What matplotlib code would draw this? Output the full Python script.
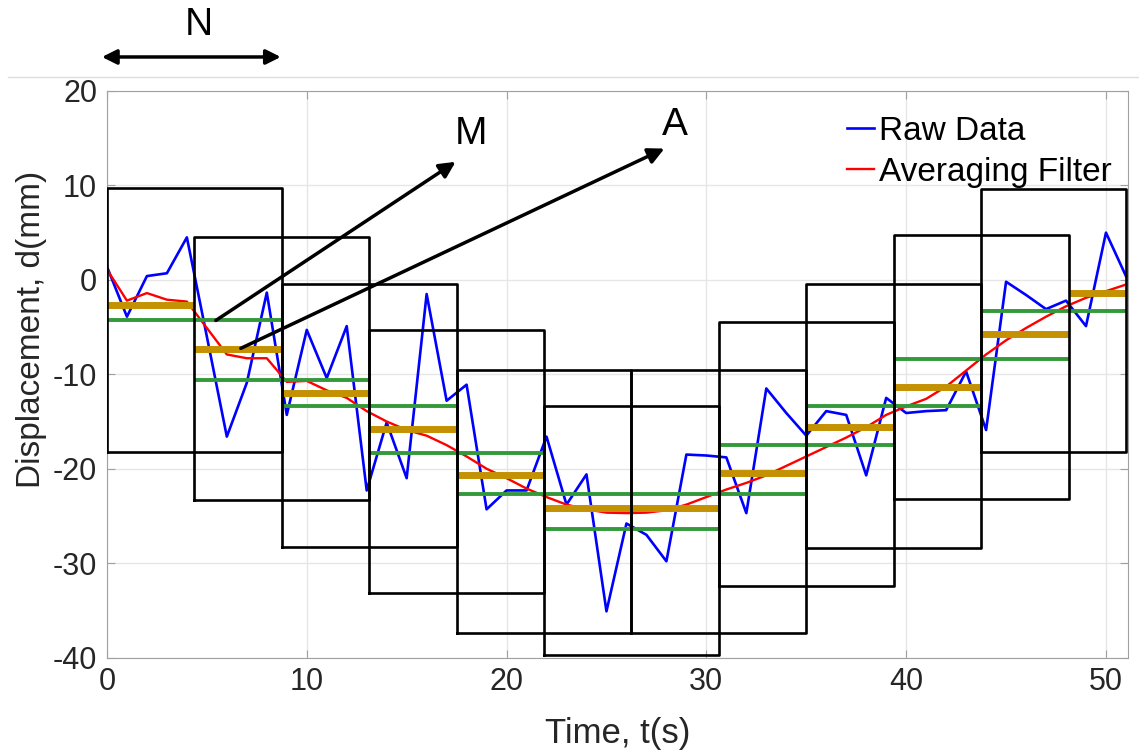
import matplotlib.pyplot as plt
from matplotlib.lines import Line2D

plt.rcParams['font.family'] = ['Liberation Sans', 'DejaVu Sans']
plt.rcParams['axes.unicode_minus'] = False

t = list(range(52))
raw = [1.4, -3.9, 0.4, 0.7, 4.5, -6.0, -16.6, -10.9, -1.35, -14.3,
       -5.3, -10.4, -4.9, -22.3, -15.1, -21.0, -1.5, -12.8, -11.1, -24.3,
       -22.3, -22.3, -16.6, -23.8, -20.6, -35.1, -25.8, -27.0, -29.8, -18.5,
       -18.6, -18.8, -24.7, -11.5, -14.1, -16.5, -13.9, -14.3, -20.7, -12.5,
       -14.1, -13.9, -13.8, -9.7, -15.9, -0.2, -1.6, -3.1, -2.2, -4.9,
       5.0, 0.4]
filt = [1.1, -2.2, -1.4, -2.1, -2.3, -5.1, -7.9, -8.3, -8.3, -10.8,
        -10.7, -11.7, -12.5, -13.9, -15.0, -15.9, -16.5, -17.5, -18.7, -20.0,
        -21.0, -22.1, -23.0, -23.8, -24.3, -24.65, -24.7, -24.65, -24.4, -23.8,
        -23.0, -22.2, -21.5, -20.7, -19.7, -18.7, -17.7, -16.7, -15.6, -14.3,
        -13.4, -12.6, -11.3, -9.6, -7.9, -6.4, -5.1, -3.9, -2.8, -1.9,
        -1.2, -0.5]

# segment edges (time)
edges = [0, 4.375, 8.75, 13.125, 17.5, 21.875, 26.25, 30.625, 35, 39.375,
         43.75, 48.125, 51]
# each window covers two segments
box_top = [9.7, 4.5, -0.4, -5.3, -9.5, -13.4, -9.5, -4.5, -0.4, 4.7, 9.6]
box_bottom = [-18.2, -23.3, -28.25, -33.2, -37.4, -39.7, -37.4, -32.45,
              -28.35, -23.2, -18.2]
green_val = [-4.3, -10.6, -13.4, -18.3, -22.7, -26.4, -22.7, -17.5, -13.4,
             -8.4, -3.3]
gold_val = [-2.65, -7.3, -12.0, -15.8, -20.7, -24.2, -24.2, -20.4, -15.6,
            -11.3, -5.75, -1.4]

fig = plt.figure(figsize=(11.39, 7.55), dpi=100)
ax = fig.add_axes([0.0939, 0.129, 0.8964, 0.7505])

ax.plot(t, raw, color='#0000ff', lw=1.9, label='Raw Data', zorder=3)
ax.plot(t, filt, color='#ff0000', lw=1.7, label='Averaging Filter', zorder=4)

for k in range(len(box_top)):
    x0, x1 = edges[k], edges[k + 2]
    ax.hlines(green_val[k], x0, x1, color='#33993a', lw=2.8, zorder=5)
    ax.plot([x0, x1, x1, x0, x0],
            [box_bottom[k], box_bottom[k], box_top[k], box_top[k], box_bottom[k]],
            color='black', lw=1.9, zorder=7)

for i in range(len(gold_val)):
    ax.hlines(gold_val[i], edges[i], edges[i + 1], color='#c49102', lw=5, zorder=6)

ap = dict(arrowstyle='-|>', color='black', lw=2.5, mutation_scale=24,
          shrinkA=0, shrinkB=0)
ax.annotate('', xy=(17.45, 12.5), xytext=(5.45, -4.3), arrowprops=ap, zorder=8)
ax.annotate('', xy=(27.9, 13.9), xytext=(6.7, -7.25), arrowprops=ap, zorder=8)
ax.text(18.2, 15.4, 'M', fontsize=28, ha='center', va='center')
ax.text(28.4, 16.4, 'A', fontsize=28, ha='center', va='center')

ap2 = dict(arrowstyle='<|-|>', color='black', lw=2.5, mutation_scale=22,
           shrinkA=0, shrinkB=0)
ax.annotate('', xy=(8.7, 23.6), xytext=(-0.25, 23.6), arrowprops=ap2,
            annotation_clip=False)
ax.text(4.6, 27.0, 'N', fontsize=28, ha='center', va='center', clip_on=False)

fig.add_artist(Line2D([0.007, 1.0], [0.898, 0.898], color='#dddddd', lw=1))

ax.set_xlim(0, 51.1)
ax.set_ylim(-40, 20)
ax.set_xticks([0, 10, 20, 30, 40, 50])
ax.set_yticks([-40, -30, -20, -10, 0, 10, 20])
ax.grid(True, color='#e6e6e6', lw=1)
ax.set_axisbelow(True)
for s in ax.spines.values():
    s.set_color('#a0a0a0')
ax.tick_params(direction='in', top=True, right=True, color='#a0a0a0',
               labelsize=22, labelcolor='#262626', length=6, pad=7)
ax.set_xlabel('Time, t(s)', fontsize=25, color='#262626', labelpad=14)
ax.set_ylabel('Displacement, d(mm)', fontsize=24, color='#262626')
ax.yaxis.set_label_coords(-0.059, 0.58)

ax.legend(loc='upper right', frameon=False, fontsize=24, handlelength=0.8,
          handletextpad=0.15, borderaxespad=0.1, labelspacing=0.3,
          bbox_to_anchor=(1.0, 0.985))

fig.savefig('out.png', dpi=100)
